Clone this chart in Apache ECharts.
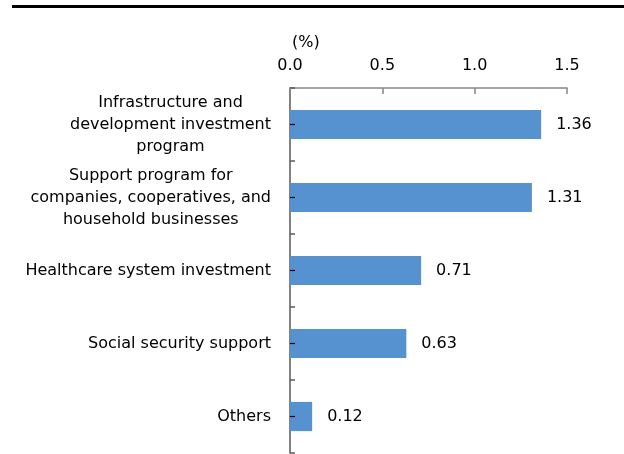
<!DOCTYPE html>
<html>
<head>
<meta charset="utf-8">
<script src="https://cdn.jsdelivr.net/npm/echarts@6/dist/echarts.min.js"></script>
<style>
  html, body { margin: 0; padding: 0; background: #fff; }
  #chart { width: 624px; height: 454px; }
</style>
</head>
<body>
<div id="chart"></div>
<script>
// Fiscal package components, share of GDP (%)
const categories = [
  'Infrastructure and\ndevelopment investment\nprogram',
  'Support program for\ncompanies, cooperatives, and\nhousehold businesses',
  'Healthcare system investment',
  'Social security support',
  'Others'
];
const values = [1.36, 1.31, 0.71, 0.63, 0.12];
const xTicks = [0.0, 0.5, 1.0, 1.5];
const unitLabel = '(%)';

const FONT = '"DejaVu Sans", sans-serif';
const FS = 16;

const chart = echarts.init(document.getElementById('chart'), null, { renderer: 'canvas' });

chart.setOption({
  animation: false,
  backgroundColor: '#fff',
  textStyle: { fontFamily: FONT },
  title: {
    text: unitLabel,
    left: 287,
    top: 30,
    textStyle: { fontFamily: FONT, fontSize: FS, fontWeight: 'normal', color: '#000' }
  },
  graphic: [{
    type: 'line',
    shape: { x1: 12, y1: 6.5, x2: 624, y2: 6.5 },
    style: { stroke: '#000', lineWidth: 3 }
  }],
  grid: { left: 290, right: 57, top: 88, height: 365, containLabel: false },
  xAxis: {
    type: 'value',
    position: 'top',
    min: xTicks[0],
    max: xTicks[xTicks.length - 1],
    interval: xTicks[1] - xTicks[0],
    axisLine: { show: true, lineStyle: { color: '#868686', width: 1.5 } },
    axisTick: { show: true, inside: true, length: 6, lineStyle: { color: '#868686', width: 1.5 } },
    splitLine: { show: false },
    axisLabel: {
      margin: 14,
      color: '#000',
      fontFamily: FONT,
      fontSize: FS,
      formatter: v => v.toFixed(1)
    }
  },
  yAxis: [{
    type: 'category',
    inverse: true,
    data: categories,
    axisLine: { show: true, lineStyle: { color: '#595959', width: 1.5 } },
    axisTick: { show: true, inside: true, length: 5, alignWithLabel: false, lineStyle: { color: '#595959', width: 1.5 } },
    axisLabel: {
      margin: 19,
      color: '#000',
      fontFamily: FONT,
      fontSize: FS,
      lineHeight: 22,
      formatter: v => v.split('\n').map(s => '{c|' + s + '}').join('\n'),
      rich: { c: { align: 'center', fontFamily: FONT, fontSize: FS, lineHeight: 22, color: '#000' } }
    }
  }, {
    // short marks at each category centre, drawn over the bars
    type: 'category',
    inverse: true,
    position: 'left',
    z: 5,
    data: categories,
    axisLine: { show: false },
    axisTick: { show: true, inside: true, length: 5, alignWithLabel: true, lineStyle: { color: '#000', width: 1.2 } },
    axisLabel: { show: false }
  }],
  series: [{
    type: 'bar',
    data: values,
    yAxisIndex: 0,
    barWidth: '40%',
    itemStyle: { color: '#5592cf' },
    label: {
      show: true,
      position: 'right',
      distance: 15,
      color: '#000',
      fontFamily: FONT,
      fontSize: FS,
      formatter: p => p.value.toFixed(2)
    }
  }]
});
</script>
</body>
</html>
